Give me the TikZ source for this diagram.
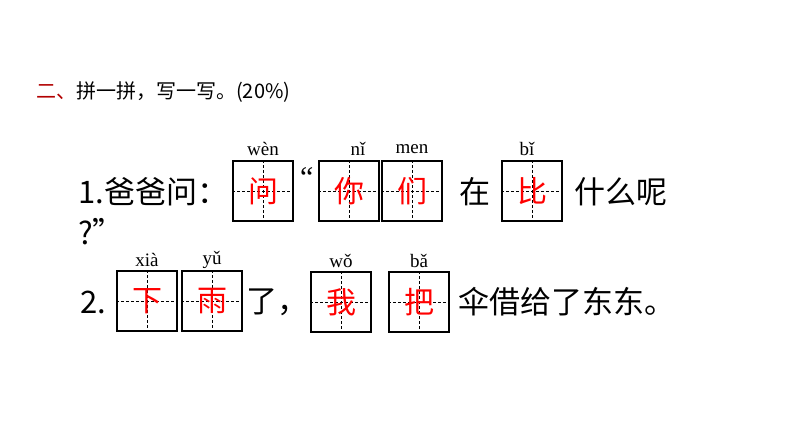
\documentclass[tikz,border=0pt]{standalone}
\usepackage{fontspec}
\newfontfamily\cjk{Noto Sans CJK SC}
\setmainfont{Liberation Serif}
\begin{document}
\begin{tikzpicture}[x=1pt,y=-1pt,
  tg/.style={draw=black,line width=1.3pt,minimum width=60pt,minimum height=60pt,inner sep=0pt,font=\cjk\fontsize{30}{30}\selectfont,text=red},
  tx/.style={font=\cjk\fontsize{31}{31}\selectfont,inner sep=0pt,anchor=west},
  py/.style={font=\fontsize{19}{19}\selectfont,inner sep=0pt}]
\useasboundingbox (0,0) rectangle (794,447);
\fill[white] (0,0) rectangle (794,447);
\newcommand{\tgbox}[3]{%
  \node[tg] (#1) at #2 {};
  \draw[densely dashed,line width=0.6pt] (#1.north) -- (#1.south) (#1.west) -- (#1.east);
  \node[font=\cjk\fontsize{30}{30}\selectfont,text=red,inner sep=0pt] at (#1.center) {#3};}
\node[anchor=west,inner sep=0pt,font=\cjk\fontsize{20}{20}\selectfont] (title) at (36,92) {\textcolor{red!70!black}{二、}拼一拼，写一写。(20\%)};
% row 1
\node[tx] (l1) at (78,192) {1.爸爸问：};
\tgbox{b1}{(263,191)}{问}
\node[inner sep=0pt,anchor=west,font=\fontsize{30}{30}\selectfont] (q1) at (300,178) {“};
\tgbox{b2}{(349,191)}{你}
\tgbox{b3}{(412,191)}{们}
\node[tx] (z) at (459,192) {在};
\tgbox{b4}{(532,191)}{比}
\node[tx] (r1) at (574,192) {什么呢};
\node[tx] (q2) at (78,232) {?”};
\node[py] at (263,149) {wèn};
\node[py] at (358,149) {nǐ};
\node[py] at (412,149) {men};
\node[py] at (527,149) {bǐ};
% row 2
\node[tx] (l2) at (80,302) {2.};
\tgbox{b5}{(147,301)}{下}
\tgbox{b6}{(212,301)}{雨}
\node[tx] (le) at (246,302) {了，};
\tgbox{b7}{(341,302)}{我}
\tgbox{b8}{(419,302)}{把}
\node[tx] (r2) at (458,302) {伞借给了东东。};
\node[py] at (147,260) {xià};
\node[py] at (212,260) {yǔ};
\node[py] at (341,261) {wǒ};
\node[py] at (419,261) {bǎ};
\end{tikzpicture}
\end{document}
